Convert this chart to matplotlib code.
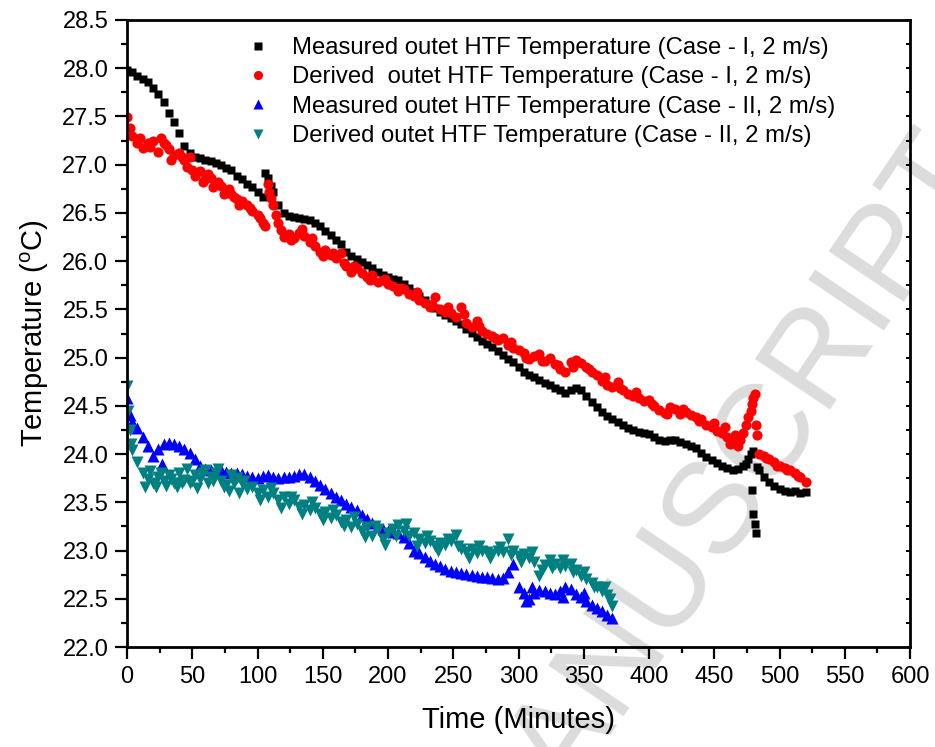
import numpy as np
import matplotlib
matplotlib.use("Agg")
import matplotlib.pyplot as plt
from matplotlib.ticker import MultipleLocator, FormatStrFormatter

plt.rcParams['font.family'] = ['Liberation Sans', 'DejaVu Sans']
plt.rcParams['mathtext.fontset'] = 'custom'
plt.rcParams['mathtext.rm'] = 'Liberation Sans'

STEP = 4  # sampling interval of the regular readings (minutes)

# ---- Case I (0 - 520 min) ----
meas1 = [27.98, 27.96, 27.92, 27.89, 27.86, 27.80, 27.73, 27.65, 27.54, 27.44,
         27.33, 27.19, 27.12, 27.08, 27.07, 27.05, 27.04, 27.02, 27.00, 26.97,
         26.94, 26.88, 26.85, 26.80, 26.77, 26.72, 26.66, 26.86, 26.72, 26.58,
         26.50, 26.47, 26.46, 26.45, 26.44, 26.43, 26.40, 26.36, 26.31, 26.27,
         26.22, 26.18, 26.10, 26.05, 26.02, 25.99, 25.96, 25.93, 25.89, 25.86,
         25.84, 25.82, 25.80, 25.76, 25.72, 25.68, 25.64, 25.60, 25.56, 25.51,
         25.47, 25.44, 25.41, 25.38, 25.35, 25.30, 25.26, 25.21, 25.17, 25.14,
         25.11, 25.07, 25.03, 24.99, 24.95, 24.90, 24.85, 24.82, 24.80, 24.77,
         24.74, 24.72, 24.69, 24.66, 24.63, 24.66, 24.69, 24.66, 24.60, 24.54,
         24.49, 24.44, 24.39, 24.36, 24.33, 24.30, 24.27, 24.25, 24.23, 24.22,
         24.21, 24.18, 24.15, 24.14, 24.15, 24.15, 24.13, 24.10, 24.08, 24.06,
         24.01, 23.97, 23.94, 23.91, 23.88, 23.86, 23.84, 23.85, 23.88, 23.95,
         24.03, 23.84, 23.76, 23.71, 23.67, 23.64, 23.62, 23.61, 23.62, 23.60,
         23.61]
meas1_extra_t = [106, 110, 479, 480, 481, 482, 483, 474, 478]
meas1_extra_v = [26.91, 26.78, 23.63, 23.38, 23.27, 23.18, 23.87, 23.90, 24.00]

der1 = [27.49, 27.30, 27.22, 27.17, 27.22, 27.25, 27.13, 27.22, 27.16, 27.10,
        27.12, 27.05, 27.08, 26.88, 26.93, 26.85, 26.86, 26.80, 26.78, 26.74,
        26.70, 26.64, 26.62, 26.58, 26.52, 26.48, 26.40, 26.80, 26.58, 26.40,
        26.25, 26.28, 26.24, 26.29, 26.26, 26.20, 26.16, 26.10, 26.12, 26.06,
        26.03, 26.08, 25.95, 25.89, 25.93, 25.88, 25.84, 25.86, 25.78, 25.80,
        25.76, 25.74, 25.69, 25.71, 25.66, 25.64, 25.60, 25.57, 25.52, 25.63,
        25.50, 25.47, 25.46, 25.42, 25.52, 25.36, 25.32, 25.38, 25.28, 25.25,
        25.22, 25.18, 25.20, 25.13, 25.10, 25.08, 25.05, 24.99, 25.02, 25.04,
        24.97, 25.00, 24.93, 24.88, 24.85, 24.95, 24.98, 24.94, 24.90, 24.85,
        24.82, 24.76, 24.72, 24.70, 24.75, 24.66, 24.62, 24.60, 24.58, 24.55,
        24.56, 24.50, 24.46, 24.43, 24.49, 24.47, 24.42, 24.44, 24.41, 24.38,
        24.36, 24.30, 24.28, 24.24, 24.22, 24.18, 24.12, 24.08, 24.22, 24.38,
        24.58, 24.00, 23.98, 23.95, 23.92, 23.88, 23.86, 23.83, 23.80, 23.76,
        23.71]
der1_extra_t = [2, 10, 18, 26, 30, 34, 42, 46, 50, 58, 62, 66, 70, 74, 78, 82,
                86, 94, 102, 106, 109, 110, 114, 118, 126, 134, 142, 150, 158,
                166, 174, 186, 198, 210, 222, 234, 246, 258, 270, 282, 294, 306,
                318, 330, 342, 354, 366, 378, 390, 402, 414, 426, 438, 450, 458,
                462, 466, 470, 474, 478, 479, 481, 482, 483, 490, 498, 506, 514]
der1_extra_v = [27.38, 27.28, 27.18, 27.28, 27.20, 27.05, 27.08, 26.98, 26.95,
                26.82, 26.90, 26.77, 26.82, 26.70, 26.75, 26.66, 26.58, 26.55,
                26.45, 26.36, 26.72, 26.65, 26.48, 26.32, 26.22, 26.33, 26.24,
                26.05, 26.08, 25.98, 25.95, 25.80, 25.82, 25.72, 25.68, 25.55,
                25.52, 25.45, 25.33, 25.20, 25.16, 25.00, 24.96, 24.92, 24.90,
                24.88, 24.80, 24.68, 24.64, 24.52, 24.42, 24.47, 24.34, 24.32,
                24.28, 24.10, 24.20, 24.15, 24.30, 24.45, 24.52, 24.62, 24.30,
                24.20, 23.96, 23.88, 23.84, 23.77]

# ---- Case II (0 - 372 min) ----
meas2 = [24.58, 24.33, 24.27, 24.18, 24.08, 23.98, 24.05, 24.10, 24.11, 24.10,
         24.08, 24.05, 24.01, 23.95, 23.88, 23.85, 23.84, 23.83, 23.83, 23.81,
         23.80, 23.80, 23.79, 23.77, 23.76, 23.75, 23.77, 23.78, 23.76, 23.75,
         23.76, 23.76, 23.77, 23.79, 23.79, 23.76, 23.72, 23.68, 23.64, 23.60,
         23.56, 23.52, 23.48, 23.45, 23.42, 23.37, 23.33, 23.29, 23.25, 23.22,
         23.20, 23.19, 23.18, 23.14, 23.08, 23.00, 22.97, 22.93, 22.89, 22.86,
         22.84, 22.81, 22.79, 22.78, 22.77, 22.76, 22.75, 22.74, 22.73, 22.73,
         22.72, 22.71, 22.72, 22.78, 22.86, 22.62, 22.56, 22.50, 22.56, 22.59,
         22.58, 22.56, 22.55, 22.58, 22.62, 22.60, 22.55, 22.52, 22.48, 22.44,
         22.40, 22.37, 22.33, 22.30]
meas2_extra_t = [2, 27, 306, 310, 334, 350]
meas2_extra_v = [24.40, 23.90, 22.48, 22.62, 22.52, 22.56]

der2 = [24.71, 24.04, 23.92, 23.80, 23.74, 23.70, 23.76, 23.72, 23.78, 23.70,
        23.80, 23.73, 23.70, 23.78, 23.74, 23.84, 23.76, 23.80, 23.72, 23.68,
        23.78, 23.75, 23.70, 23.64, 23.66, 23.60, 23.63, 23.56, 23.60, 23.52,
        23.55, 23.48, 23.52, 23.45, 23.47, 23.42, 23.44, 23.38, 23.40, 23.34,
        23.37, 23.30, 23.32, 23.24, 23.28, 23.20, 23.24, 23.15, 23.22, 23.12,
        23.18, 23.22, 23.26, 23.20, 23.15, 23.18, 23.12, 23.08, 23.10, 23.05,
        23.08, 23.06, 23.10, 23.16, 23.02, 22.98, 23.02, 22.97, 23.00, 22.98,
        22.96, 23.00, 22.98, 23.12, 23.00, 22.94, 22.96, 22.92, 22.88, 22.74,
        22.85, 22.90, 22.86, 22.82, 22.84, 22.86, 22.80, 22.74, 22.70, 22.66,
        22.62, 22.58, 22.54, 22.42]
der2_extra_t = [1, 2, 3, 14, 18, 22, 26, 30, 34, 38, 42, 46, 50, 54, 58, 62,
                66, 70, 74, 78, 82, 86, 90, 102, 110, 118, 126, 134, 142, 150,
                158, 166, 174, 182, 190, 198, 206, 214, 222, 230, 238, 246, 254,
                262, 270, 278, 286, 294, 302, 310, 318, 326, 334, 342, 350, 358,
                366, 370]
der2_extra_v = [24.45, 24.25, 24.10, 23.66, 23.82, 23.66, 23.80, 23.67, 23.74,
                23.66, 23.70, 23.85, 23.72, 23.65, 23.80, 23.70, 23.72, 23.85,
                23.66, 23.62, 23.70, 23.60, 23.72, 23.52, 23.65, 23.44, 23.55,
                23.38, 23.50, 23.32, 23.42, 23.25, 23.35, 23.14, 23.25, 23.06,
                23.15, 23.28, 23.05, 23.15, 23.00, 23.12, 23.05, 22.92, 23.05,
                22.92, 23.04, 22.95, 22.88, 22.98, 22.80, 22.82, 22.90, 22.78,
                22.78, 22.62, 22.62, 22.50]

labels = ["Measured outet HTF Temperature (Case - I, 2 m/s)",
          "Derived  outet HTF Temperature (Case - I, 2 m/s)",
          "Measured outet HTF Temperature (Case - II, 2 m/s)",
          "Derived outet HTF Temperature (Case - II, 2 m/s)"]


def series(vals, et, ev):
    t = np.arange(len(vals)) * STEP
    return np.concatenate([t, et]), np.concatenate([vals, ev])


fig = plt.figure(figsize=(9.35, 7.47), dpi=100)
ax = fig.add_axes([127 / 935, 1 - 647 / 747, 783 / 935, 627 / 747])
ax.patch.set_alpha(0)

fig.text(0.548, -0.098, "ACCEPTED MANUSCRIPT", rotation=56, fontsize=94,
         color="#dcdcdc", ha="center", va="center", zorder=-5)

t, v = series(meas1, meas1_extra_t, meas1_extra_v)
ax.plot(t, v, ls="none", marker="s", ms=6, color="black", mec="none", label=labels[0])
t, v = series(der1, der1_extra_t, der1_extra_v)
ax.plot(t, v, ls="none", marker="o", ms=7.3, color="#ff0000", mec="none", label=labels[1])
t, v = series(meas2, meas2_extra_t, meas2_extra_v)
ax.plot(t, v, ls="none", marker="^", ms=8.3, color="#0000ff", mec="none", label=labels[2])
t, v = series(der2, der2_extra_t, der2_extra_v)
ax.plot(t, v, ls="none", marker="v", ms=8.3, color="#008080", mec="none", label=labels[3])

ax.set_xlim(0, 600)
ax.set_ylim(22.0, 28.5)
ax.xaxis.set_major_locator(MultipleLocator(50))
ax.xaxis.set_minor_locator(MultipleLocator(25))
ax.yaxis.set_major_locator(MultipleLocator(0.5))
ax.yaxis.set_minor_locator(MultipleLocator(0.25))
ax.yaxis.set_major_formatter(FormatStrFormatter("%.1f"))

for s in ax.spines.values():
    s.set_linewidth(2)
ax.tick_params(which="major", direction="out", length=8.5, width=1.6,
               labelsize=17, top=False, right=False, pad=5)
ax.tick_params(which="minor", direction="out", length=4.5, width=1.6,
               top=False, right=False)

axr = ax.twinx()
axr.set_ylim(ax.get_ylim())
axr.yaxis.set_major_locator(MultipleLocator(0.5))
axr.yaxis.set_minor_locator(MultipleLocator(0.25))
axr.tick_params(which="both", direction="in", length=3, width=1.4, labelright=False)
for s in axr.spines.values():
    s.set_visible(False)

ax.set_xlabel("Time (Minutes)", fontsize=21, labelpad=13)
ax.set_ylabel("Temperature ($^{\\rm o}$C)", fontsize=21, labelpad=8)

leg = ax.legend(loc="upper left", bbox_to_anchor=(0.152, 0.973), frameon=False,
                fontsize=17.2, handlelength=1.0, handletextpad=0.92,
                labelspacing=0.31, borderpad=0.0, borderaxespad=0.0,
                markerscale=0.9)

fig.savefig("out.png", dpi=100)
